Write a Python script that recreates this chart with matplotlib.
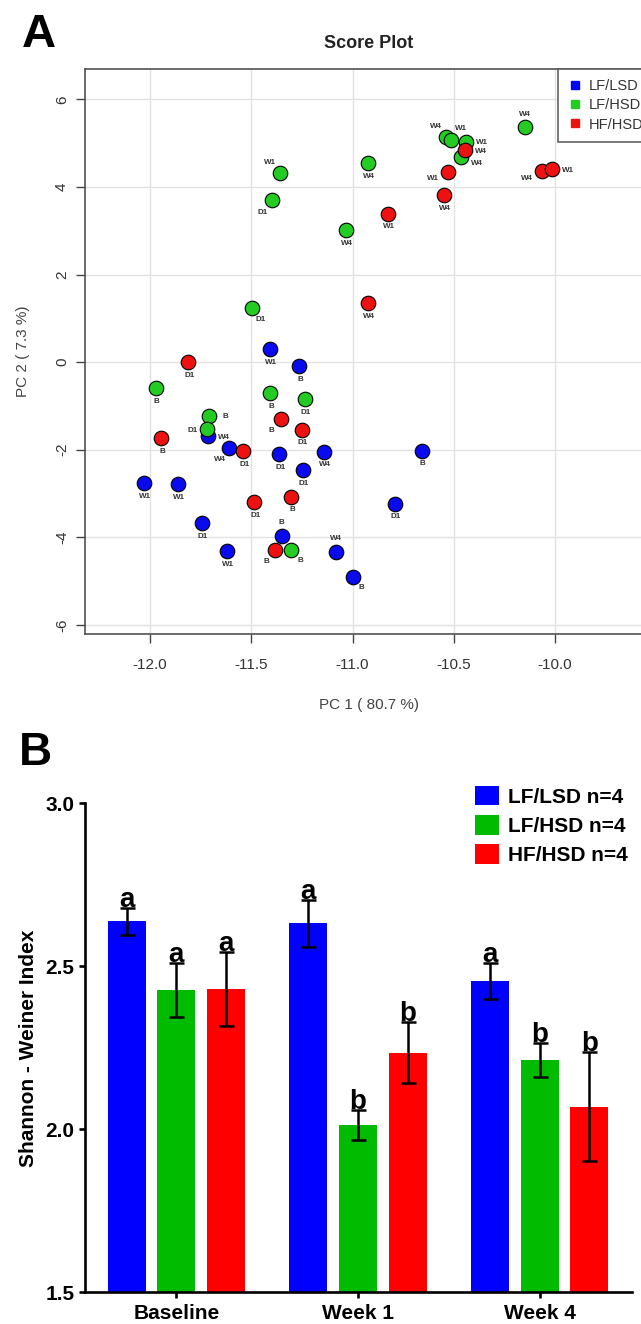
import matplotlib.pyplot as plt
from matplotlib.lines import Line2D
from matplotlib.patches import Patch
import numpy as np

plt.rcParams['font.family'] = ['Liberation Sans', 'DejaVu Sans']
plt.rcParams['axes.unicode_minus'] = False

# ---- Panel A: PCA score plot data ----
lflsd_pc1 = [-11.408, -11.263, -11.712, -11.612, -11.362, -11.246, -12.028, -11.86,
             -11.745, -11.35, -11.621, -11.141, -10.659, -10.79, -11.082, -11.0]
lflsd_pc2 = [0.297, -0.09, -1.69, -1.96, -2.10, -2.47, -2.77, -2.785,
             -3.68, -3.965, -4.315, -2.05, -2.025, -3.24, -4.33, -4.90]
lflsd_lab = ['W1', 'B', 'W4', 'W4', 'D1', 'D1', 'W1', 'W1',
             'D1', 'B', 'W1', 'W4', 'B', 'D1', 'W4', 'B']
lflsd_pos = ['b', 'b', 'r', 'bl', 'b', 'b', 'b', 'b',
             'b', 'a', 'b', 'b', 'b', 'b', 'a', 'br']

lfhsd_pc1 = [-11.358, -11.40, -11.498, -10.925, -10.541, -10.514, -10.442, -10.465,
             -10.148, -11.034, -11.972, -11.408, -11.235, -11.709, -11.717, -11.304]
lfhsd_pc2 = [4.31, 3.70, 1.226, 4.54, 5.13, 5.08, 5.03, 4.69,
             5.36, 3.01, -0.60, -0.715, -0.845, -1.22, -1.53, -4.28]
lfhsd_lab = ['W1', 'D1', 'D1', 'W4', 'W4', 'W1', 'W1', 'W4',
             'W4', 'W4', 'B', 'B', 'D1', 'B', 'D1', 'B']
lfhsd_pos = ['al', 'bl', 'br', 'b', 'al', 'ar', 'r', 'rb',
             'a', 'b', 'b', 'b', 'b', 'r', 'l', 'br']

hfhsd_pc1 = [-11.811, -11.355, -11.946, -11.251, -11.54, -11.304, -11.485, -11.383,
             -10.527, -10.547, -10.064, -10.016, -10.827, -10.925, -10.445]
hfhsd_pc2 = [0.0, -1.29, -1.735, -1.54, -2.03, -3.075, -3.20, -4.28,
             4.345, 3.81, 4.36, 4.40, 3.39, 1.34, 4.84]
hfhsd_lab = ['D1', 'B', 'B', 'D1', 'D1', 'B', 'D1', 'B',
             'W1', 'W4', 'W4', 'W1', 'W1', 'W4', 'W4']
hfhsd_pos = ['b', 'bl', 'b', 'b', 'b', 'b', 'b', 'bl',
             'lb', 'b', 'lb', 'r', 'b', 'b', 'r']

group_names = ['LF/LSD', 'LF/HSD', 'HF/HSD']

# ---- Panel B: Shannon index data ----
timepoints = ['Baseline', 'Week 1', 'Week 4']
lflsd_mean = [2.638, 2.632, 2.455]
lflsd_sem = [0.042, 0.072, 0.056]
lfhsd_mean = [2.428, 2.012, 2.212]
lfhsd_sem = [0.082, 0.046, 0.053]
hfhsd_mean = [2.430, 2.235, 2.070]
hfhsd_sem = [0.113, 0.093, 0.168]
lflsd_letters = ['a', 'a', 'a']
lfhsd_letters = ['a', 'b', 'b']
hfhsd_letters = ['a', 'b', 'b']
bar_legend = ['LF/LSD n=4', 'LF/HSD n=4', 'HF/HSD n=4']

# label offsets (pixels, image down = positive)
offsets = {'b': (1, 13), 'a': (0, -13), 'l': (-15, 1), 'r': (16, 1),
           'bl': (-9, 12), 'br': (9, 11), 'al': (-10, -11), 'ar': (10, -11),
           'lb': (-15, 7), 'rb': (16, 7)}

fig = plt.figure(figsize=(6.41, 13.24), dpi=100)

# ===== Panel A =====
ax = fig.add_axes([0.1326, 0.5211, 0.886, 0.4267])
pt_colors = ['#0a0aee', '#22cc22', '#ee1111']
groups = [(lflsd_pc1, lflsd_pc2, lflsd_lab, lflsd_pos),
          (lfhsd_pc1, lfhsd_pc2, lfhsd_lab, lfhsd_pos),
          (hfhsd_pc1, hfhsd_pc2, hfhsd_lab, hfhsd_pos)]
for (xs, ys, labs, poss), col in zip(groups, pt_colors):
    ax.scatter(xs, ys, s=110, c=col, edgecolors='black', linewidths=0.8, zorder=3)
    for x, y, lab, p in zip(xs, ys, labs, poss):
        dx, dy = offsets[p]
        ax.annotate(lab, (x, y), xytext=(dx * 0.72, -dy * 0.72), textcoords='offset points',
                    ha='center', va='center', fontsize=5.8, fontweight='bold',
                    color='#333333', zorder=4)

ax.set_xlim(-12.321, -9.517)
ax.set_ylim(-6.21, 6.69)
ax.set_xticks([-12.0, -11.5, -11.0, -10.5, -10.0])
ax.set_xticklabels(['%.1f' % v for v in [-12.0, -11.5, -11.0, -10.5, -10.0]])
ax.set_yticks([-6, -4, -2, 0, 2, 4, 6])
ax.grid(True, color='#e2e2e2', linewidth=1.0)
ax.set_axisbelow(True)
for sp in ax.spines.values():
    sp.set_color('#444444')
    sp.set_linewidth(1.1)
ax.tick_params(direction='out', length=6.5, width=1.0, color='#444444',
               labelsize=11, labelcolor='#333333')
ax.tick_params(axis='x', pad=11)
ax.tick_params(axis='y', pad=5)
for lab in ax.get_yticklabels():
    lab.set_rotation(90)
    lab.set_va('center')
ax.set_title('Score Plot', fontsize=13, fontweight='bold', color='#222222', pad=15)
ax.set_xlabel('PC 1 ( 80.7 %)', fontsize=11, color='#444444')
ax.set_ylabel('PC 2 ( 7.3 %)', fontsize=11, color='#444444')
ax.xaxis.set_label_coords(0.5, -0.113)
ax.yaxis.set_label_coords(-0.097, 0.5)

# legend box runs past the right edge, as in the original figure
handles = [Line2D([], [], marker='s', linestyle='none', markersize=5.3,
                  markerfacecolor=c, markeredgecolor=c) for c in ['#0000ff', '#22cc22', '#ee1111']]
leg = ax.legend(handles, group_names, loc='upper left', bbox_to_anchor=(0.8327, 1.0),
                borderaxespad=0, fancybox=False, framealpha=1, edgecolor='#555555',
                fontsize=10.5, handlelength=1.0, handletextpad=0.4, borderpad=0.7,
                labelspacing=0.35)
leg.get_frame().set_linewidth(1.1)
for t in leg.get_texts():
    t.set_color('#333333')

fig.text(22 / 641, 1 - 47 / 1324, 'A', fontsize=34, fontweight='bold', va='baseline')

# ===== Panel B =====
bx = fig.add_axes([0.1326, 0.02394, 0.8534, 0.3693])
xpos = np.arange(len(timepoints))
step = 0.2737
width = 0.209
bar_colors = ['#0000ff', '#00bb00', '#ff0000']
series = [(lflsd_mean, lflsd_sem, lflsd_letters),
          (lfhsd_mean, lfhsd_sem, lfhsd_letters),
          (hfhsd_mean, hfhsd_sem, hfhsd_letters)]
for i, ((m, e, letters), col) in enumerate(zip(series, bar_colors)):
    xx = xpos + (i - 1) * step
    bottoms = 1.5
    bx.bar(xx, np.array(m) - bottoms, width, bottom=bottoms, color=col, zorder=2,
           label=bar_legend[i])
    bx.errorbar(xx, m, yerr=e, fmt='none', ecolor='black', elinewidth=1.8,
                capsize=5.4, capthick=1.8, zorder=3)
    for x, mv, ev, l in zip(xx, m, e, letters):
        bx.annotate(l, (x, mv + ev), xytext=(0, 0.8), textcoords='offset points',
                    ha='center', va='baseline', fontsize=20, fontweight='bold',
                    annotation_clip=False, zorder=4)

bx.set_xlim(-0.503, 2.509)
bx.set_ylim(1.5, 3.0)
bx.set_yticks([1.5, 2.0, 2.5, 3.0])
bx.set_yticklabels(['%.1f' % v for v in [1.5, 2.0, 2.5, 3.0]])
bx.set_xticks(xpos)
bx.set_xticklabels(timepoints)
for s in ['top', 'right']:
    bx.spines[s].set_visible(False)
for s in ['left', 'bottom']:
    bx.spines[s].set_linewidth(1.9)
bx.tick_params(direction='out', length=4.5, width=1.9, labelsize=15, pad=3)
bx.tick_params(axis='x', pad=4)
for lab in bx.get_xticklabels() + bx.get_yticklabels():
    lab.set_fontweight('bold')
bx.set_ylabel('Shannon - Weiner Index', fontsize=15, fontweight='bold')
bx.yaxis.set_label_coords(-0.086, 0.5)

bhandles = [Patch(facecolor=c, edgecolor='none') for c in bar_colors]
fig.legend(bhandles, bar_legend, loc='upper left', bbox_to_anchor=(475 / 641, 1 - 786 / 1324),
           frameon=False, borderpad=0, borderaxespad=0, prop={'weight': 'bold', 'size': 15},
           handlelength=1.15, handleheight=1.06, handletextpad=0.42, labelspacing=0.4)

fig.text(19 / 641, 1 - 765 / 1324, 'B', fontsize=33, fontweight='bold', va='baseline')

fig.savefig('out.png', dpi=100)
